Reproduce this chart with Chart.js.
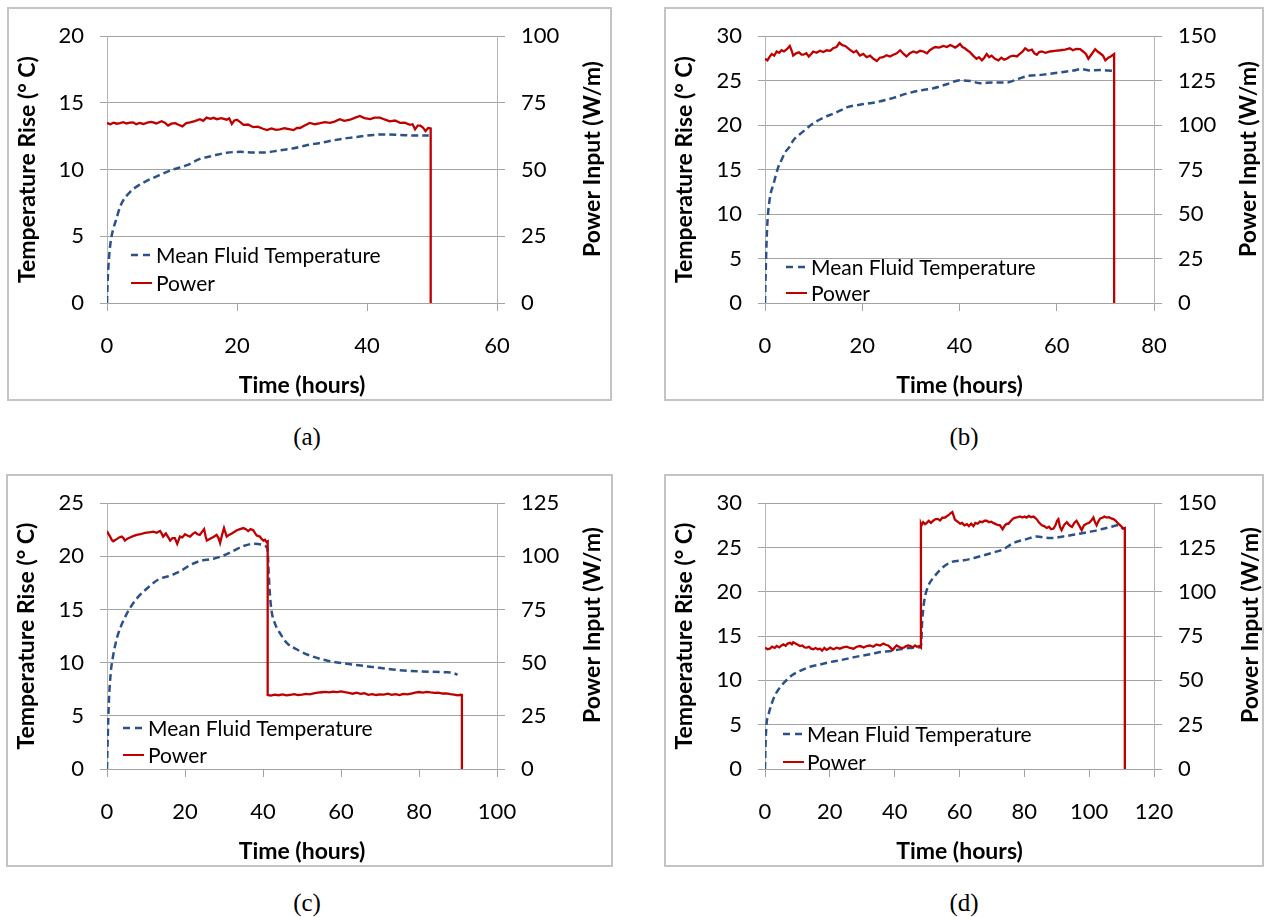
<!DOCTYPE html>
<html>
<head>
<meta charset="utf-8">
<script src="https://cdn.jsdelivr.net/npm/chart.js@4.4.1/dist/chart.umd.min.js"></script>
<style>
  html, body { margin: 0; padding: 0; background: #fff; }
  body { width: 1264px; height: 917px; position: relative; overflow: hidden; }
  canvas { position: absolute; }
  .box { position: absolute; border: 2px solid #c4c4c4; box-sizing: border-box; pointer-events: none; }
  .cap { position: absolute; width: 100px; text-align: center; font-family: "Liberation Serif", "Times New Roman", serif; font-size: 25px; color: #000; line-height: 28px; }
</style>
</head>
<body>
<canvas id="ca" width="605" height="394" style="left:7px;top:7px"></canvas>
<canvas id="cb" width="599" height="394" style="left:664px;top:7px"></canvas>
<canvas id="cc" width="607" height="393" style="left:6px;top:474px"></canvas>
<canvas id="cd" width="599" height="393" style="left:664px;top:474px"></canvas>
<div class="box" style="left:7px;top:7px;width:605px;height:394px"></div>
<div class="box" style="left:664px;top:7px;width:600px;height:394px"></div>
<div class="box" style="left:6px;top:474px;width:607px;height:393px"></div>
<div class="box" style="left:664px;top:474px;width:600px;height:393px"></div>
<div class="cap" style="left:257px;top:423px">(a)</div>
<div class="cap" style="left:914px;top:423px">(b)</div>
<div class="cap" style="left:257px;top:889px">(c)</div>
<div class="cap" style="left:914px;top:889px">(d)</div>
<script>
// ---------------- DATA ----------------
const seriesNames = ['Mean Fluid Temperature', 'Power'];
const xTitle = 'Time (hours)';
const yTitle = 'Temperature Rise (° C)';
const y1Title = 'Power Input (W/m)';

// (a)
const aTempHours = [0,0.1,0.2,0.4,0.7,1.0,1.5,2.0,2.5,3.5,4.8,6.1,7.9,10,12.3,14.3,16.4,18.4,20.5,22.5,24.3,26.6,28.7,30.7,32.8,34.8,36.9,38.9,41,43,45.1,47.1,49.5];
const aTempValues = [0,1.6,2.6,3.9,5.0,5.6,6.4,7.2,7.7,8.3,8.8,9.15,9.55,9.98,10.33,10.8,11.05,11.26,11.33,11.29,11.29,11.45,11.6,11.83,12.0,12.19,12.36,12.48,12.6,12.64,12.6,12.55,12.55];
const aPowerHours = [0,0.5,1,1.5,2,2.5,3,3.5,4,4.5,5,5.6,6.2,6.8,7.1,7.6,8.4,8.9,9.4,9.9,10.5,11,11.6,12.2,12.8,13.5,14.3,14.8,15.3,15.9,16.4,16.9,17.6,18.4,18.8,19.2,19.6,20,20.5,21,21.7,22.5,23.2,24,24.6,25.3,26,26.6,27.3,28,28.7,29.2,29.7,30.4,31.2,32,32.8,33.5,34.3,35,35.8,36.5,37.4,38.1,38.9,39.6,40.5,41.2,42,42.7,43.5,44.3,45.1,45.8,46.6,47,47.4,47.8,48.2,48.6,49,49.4,49.8,49.8];
const aPowerValues = [67.5,67.0,67.6,67.2,67.4,67.8,67.3,67.6,67.7,67.0,67.5,67.1,67.6,67.9,67.7,67.3,68.1,67.6,66.5,67.2,67.4,66.8,66.2,67.4,67.7,68.2,68.9,68.3,69.5,69.0,69.4,68.9,69.3,68.7,69.2,67.1,68.4,68.7,67.8,66.8,66.9,65.9,66.1,65.3,64.8,65.4,64.9,65.1,65.5,65.2,64.8,65.6,65.6,66.5,67.5,67.0,67.4,67.8,67.5,68.0,68.9,68.3,68.7,69.4,70.1,69.3,68.9,69.5,69.5,68.8,68.1,68.4,67.5,67.6,66.8,67.0,65.1,66.5,66.5,65.8,64.4,65.6,65.4,0];

// (b)
const bTempHours = [0,0.15,0.3,0.48,1.03,1.71,2.74,3.5,4.1,5.1,5.83,7.88,9.94,12.7,13.7,16.1,16.8,19.5,23,26.4,29.1,31.9,34.6,37.4,40.1,42.2,44.2,47,49.7,51.8,53.8,57.2,60.7,63.4,65.1,66.8,68.9,71.6];
const bTempValues = [0,3.5,6.5,8.9,11.9,13.3,15.3,16.2,16.9,17.6,18.3,19.3,20.2,21.0,21.2,21.8,22.0,22.3,22.6,23.07,23.54,23.9,24.14,24.6,25.04,24.97,24.72,24.8,24.8,25.14,25.5,25.68,25.93,26.14,26.3,26.14,26.2,26.1];
const bPowerHours = [0,0.5,1.0,1.4,1.9,2.4,2.9,3.4,3.9,4.5,5.1,5.5,5.8,6.4,7.0,7.5,7.9,8.5,9.0,9.5,9.9,10.6,11.3,12.0,12.7,13.4,14.0,14.7,15.3,15.9,16.5,17.3,18.2,18.8,19.5,20.2,20.9,21.6,22.3,23.0,23.6,24.3,25.0,25.7,26.4,27.1,27.8,28.5,29.1,29.8,30.5,31.2,31.9,32.6,33.3,33.9,34.5,35.0,35.8,36.7,37.4,38.1,38.6,39.1,39.6,40.1,40.6,41.1,41.6,42.2,42.8,43.5,44.0,44.6,45.1,45.6,46.1,46.6,47.3,48.0,48.6,49.2,49.7,50.4,51.1,51.8,52.4,53.0,53.5,54.2,54.9,55.4,55.9,56.4,56.9,57.7,58.6,59.6,60.7,61.7,62.7,63.3,64.0,64.8,65.4,66.0,66.5,67.2,67.9,68.4,68.9,69.5,70.0,70.6,71.1,71.6,71.8,71.8];
const bPowerValues = [137.3,136.4,138.6,140.0,139.1,141.4,140.7,142.1,141.4,142.7,144.5,141.8,139.1,140.4,140.9,139.6,139.6,140.4,138.6,140.0,141.4,140.7,141.8,141.1,142.1,141.8,143.2,143.9,146.3,145.0,144.5,142.7,140.9,141.8,139.1,140.0,138.2,139.1,137.3,136.1,137.9,138.2,139.3,138.6,139.6,140.4,142.1,140.0,138.6,140.4,141.4,140.7,141.8,141.4,140.4,142.1,143.2,143.9,143.6,144.5,143.9,145.0,144.3,143.6,144.5,145.7,143.9,143.2,142.1,140.9,139.1,137.3,138.2,136.4,137.9,140.0,138.2,139.1,137.3,136.4,137.9,136.8,137.3,138.6,139.1,138.6,140.0,141.4,143.2,141.8,142.5,140.4,139.6,141.1,141.4,140.7,141.4,141.8,142.1,142.5,143.2,142.1,142.9,142.7,141.4,140.0,137.3,140.0,142.7,141.4,140.4,139.1,136.4,137.9,138.6,139.6,140.0,0];

// (c)
const cTempHours = [0,0.2,0.5,1.0,1.45,2.2,2.9,4.2,5.9,8.0,10.6,13.2,16.2,18.7,21.3,23.8,27.3,29.8,32.4,35,37.5,40.1,40.9,41.2,41.5,41.8,42.2,43.1,44.4,46.1,48.6,52.1,56.3,61.5,68.1,74.3,80.5,86.7,88.5,89.9];
const cTempValues = [0,3,6.5,9.2,10.4,11.8,12.75,13.95,15.14,16.19,17.09,17.83,18.19,18.58,19.18,19.56,19.77,20.07,20.52,20.97,21.18,21.06,20.88,20.5,18.1,16.3,14.85,13.65,12.75,11.86,11.26,10.66,10.2,9.9,9.59,9.32,9.17,9.1,9.05,8.87];
const cPowerHours = [0,0.3,0.8,1.2,1.6,2.1,2.5,3.1,3.8,4.2,4.6,5.2,5.9,6.7,7.6,8.6,9.7,10.8,11.9,12.7,13.6,14.0,14.4,15.1,15.6,16.2,16.8,17.4,18.0,18.7,19.3,20.0,20.6,21.3,22.0,22.6,23.2,23.8,24.4,24.9,25.3,25.6,26.2,26.8,27.4,28.1,28.6,29.0,29.5,30.0,30.7,31.3,32.0,32.7,33.3,34.1,35.0,35.6,36.2,36.8,37.5,38.0,38.4,39.2,39.6,40.1,40.5,40.9,41.2,41.2,42,43,44,45,46,47,48,49,50,51,52,53,54,55,56,57,58,59,60,61,62,63,64,65,66,67,68,69,70,71,72,73,74,75,76,77,78,79,80,81,82,83,84,85,86,87,88,89,90,90.6,91,91];
const cPowerValues = [111.9,110.8,109.3,107.8,107.1,107.7,108.1,108.9,109.3,108.6,107.4,108.3,108.9,109.5,110.1,110.4,111.0,111.3,111.6,111.1,111.9,110.8,109.3,110.8,109.3,107.4,108.6,108.6,105.9,109.3,108.9,110.4,109.8,109.3,110.6,111.3,110.4,110.1,111.6,112.8,109.3,107.4,108.0,108.6,109.2,110.1,108.6,106.3,110.1,113.3,109.3,110.1,110.8,111.6,112.3,112.8,113.3,112.8,111.9,112.8,112.3,110.8,109.8,109.3,108.3,107.4,107.8,106.8,107.1,34.8,34.5,35.0,34.7,35.1,34.6,34.9,35.2,34.8,35.0,35.3,35.1,35.6,35.9,36.1,36.3,36.0,36.4,36.2,36.5,36.1,35.8,35.4,35.9,35.3,35.6,34.9,35.2,34.8,35.1,35.0,35.4,34.9,35.2,34.8,35.3,35.1,35.5,35.9,36.2,35.9,36.3,36.0,35.8,35.9,35.5,35.6,35.2,35.0,34.6,34.9,34.8,0];

// (d)
const dTempHours = [0,0.15,0.43,1.0,2.1,3.2,4.6,6.3,8.3,11,13.9,17,20.2,23.5,27.2,30,32.7,35.5,38.9,41.6,44.5,46.8,48.1,48.5,49.1,50.4,52,54.5,57.6,61.3,65.3,70.4,73.5,76.6,80.7,83.8,87.9,92,96.1,101.3,106.4,109,110.5];
const dTempValues = [0,2.5,4.9,6.0,7.4,8.4,9.2,9.9,10.57,11.1,11.54,11.8,12.08,12.3,12.6,12.8,12.97,13.2,13.33,13.5,13.65,13.7,13.85,16.7,18.9,20.7,21.6,22.65,23.37,23.55,23.9,24.44,24.8,25.5,25.95,26.24,26.06,26.24,26.5,26.85,27.3,27.5,27.1];
const dPowerHours = [0,0.8,1.5,2.2,3.0,3.6,4.4,5.1,5.7,6.4,7.0,7.7,8.3,8.7,9.4,10.1,10.8,11.5,12.2,12.9,13.6,14.2,14.9,15.6,16.3,17.0,17.6,18.3,19.0,19.6,20.1,21.1,22.1,23.1,24.1,25.2,26.2,27.3,28.3,29.3,30.4,31.4,32.4,33.4,34.4,35.5,36.5,37.2,38.0,38.7,39.4,40.0,40.6,41.3,42.0,42.8,43.5,44.2,44.9,45.6,46.3,46.9,47.6,48.1,48.1,48.3,48.8,49.4,49.9,50.5,51.2,51.9,52.6,53.4,54.0,54.7,55.5,56.2,56.8,57.2,57.8,58.2,58.6,59.4,60.2,60.8,61.5,62.3,62.9,63.6,64.3,64.9,65.6,66.3,67.0,67.7,68.4,69.1,69.8,70.4,71.2,71.8,72.5,73.3,74.0,74.6,75.1,75.8,76.6,77.3,78.0,78.7,79.4,80.1,80.7,81.4,82.1,82.8,83.3,83.8,84.6,85.4,86.1,86.9,87.6,88.3,89.0,89.6,90.1,90.5,91.0,91.5,92.3,93.1,93.9,94.7,95.4,96.1,96.9,97.7,98.4,99.2,100.0,100.7,101.3,101.8,102.3,102.8,103.4,104.1,104.7,105.4,106.1,106.8,107.5,108.2,109.0,109.6,110.1,110.5,111.0,111.0];
const dPowerValues = [68.5,67.6,67.9,69.0,68.3,69.4,68.6,69.7,70.3,69.5,70.8,71.2,70.4,71.5,70.8,70.1,69.4,69.7,68.6,68.5,69.0,67.9,67.6,68.3,67.6,67.9,66.8,68.3,67.2,67.9,68.5,67.6,68.5,67.9,68.6,69.0,68.3,67.9,69.0,69.4,68.6,69.4,69.7,69.0,70.3,69.7,70.8,70.1,69.7,68.5,67.2,68.6,69.7,69.0,68.3,68.5,69.4,69.7,69.4,68.6,69.7,69.0,69.4,68.5,138.4,137.5,139.3,138.2,138.9,140.0,138.9,140.1,141.0,141.0,140.3,141.8,141.9,142.8,143.5,144.3,145.0,142.8,140.7,139.6,138.4,138.9,137.5,138.2,137.1,138.4,137.1,138.9,138.4,139.6,139.3,140.1,140.1,139.3,139.6,138.9,138.2,137.8,137.5,135.3,137.5,138.4,138.4,140.0,141.4,141.8,142.1,142.5,141.9,142.5,141.9,142.8,142.1,142.5,141.8,141.0,138.9,137.5,137.1,136.0,136.7,135.3,135.7,137.5,140.1,141.0,136.6,134.8,137.8,139.3,137.5,136.6,138.9,140.1,137.5,134.8,137.5,138.4,138.9,140.3,141.9,139.3,137.5,139.6,141.4,141.8,142.5,141.9,142.1,141.4,141.0,140.0,138.4,137.5,136.6,135.7,136.0,0];

// ---------------- CHART BUILDING ----------------
const FONT = 'Lato, "Open Sans", "Liberation Sans", sans-serif';
const GRID = '#a3a3a3';
const AXISLINE = '#b5b5b5';
const RED = '#C00000';
const BLUE = '#2A5289';

function pts(xs, ys) { return xs.map((x, i) => ({ x: x, y: ys[i] })); }

const panelDecor = {
  id: 'panelDecor',
  afterDraw(chart) {
    const o = chart.options.plugins.panelDecor;
    const ctx = chart.ctx;
    ctx.save();
    ctx.font = 'bold 23px ' + FONT;
    ctx.fillStyle = '#000';
    ctx.textAlign = 'center';
    ctx.textBaseline = 'middle';
    ctx.translate(o.rtX, o.rtY);
    ctx.rotate(-Math.PI / 2);
    ctx.fillText(y1Title, 0, 0);
    ctx.restore();
    ctx.save();
    ctx.font = '21px ' + FONT;
    ctx.fillStyle = '#000';
    ctx.textAlign = 'left';
    ctx.textBaseline = 'middle';
    ctx.lineWidth = 2.5;
    ctx.strokeStyle = BLUE;
    ctx.setLineDash([7, 5]);
    ctx.beginPath();
    ctx.moveTo(o.lgX1, o.lgY1); ctx.lineTo(o.lgX2, o.lgY1); ctx.stroke();
    ctx.setLineDash([]);
    ctx.strokeStyle = RED;
    ctx.lineWidth = 2;
    ctx.beginPath();
    ctx.moveTo(o.lgX1, o.lgY2); ctx.lineTo(o.lgX2, o.lgY2); ctx.stroke();
    ctx.fillText(seriesNames[0], o.lgTX, o.lgY1 + 1);
    ctx.fillText(seriesNames[1], o.lgTX, o.lgY2 + 1);
    ctx.restore();
  }
};

function makePanel(id, xMax, yMax, y1Max, tT, tV, pT, pV, geo) {
  const cv = document.getElementById(id);
  const W = cv.width, H = cv.height;
  return new Chart(cv, {
    type: 'line',
    data: {
      datasets: [
        { label: seriesNames[0], data: pts(tT, tV), yAxisID: 'y', borderColor: BLUE, borderWidth: 2.5,
          borderDash: [7, 4], pointRadius: 0, cubicInterpolationMode: 'monotone', order: 1, fill: false },
        { label: seriesNames[1], data: pts(pT, pV), yAxisID: 'y1', borderColor: RED, borderWidth: 2.3,
          pointRadius: 0, tension: 0, order: 0, fill: false }
      ]
    },
    options: {
      responsive: false,
      animation: false,
      events: [],
      layout: { padding: { top: geo.top, left: 0, right: 0, bottom: 0 } },
      plugins: {
        legend: { display: false },
        tooltip: { enabled: false },
        panelDecor: geo
      },
      scales: {
        x: {
          type: 'linear', min: 0, max: xMax, position: 'bottom',
          ticks: { stepSize: 20, color: '#000', font: { family: FONT, size: 22 }, padding: 22, maxRotation: 0 },
          grid: { display: true, drawOnChartArea: false, drawTicks: true, tickLength: 8, color: GRID },
          border: { display: false },
          title: { display: true, text: xTitle, color: '#000', font: { family: FONT, size: 23, weight: 'bold' }, padding: { top: 0, bottom: 2 } },
          afterFit(s) { s.height = H - geo.bottom; }
        },
        y: {
          type: 'linear', position: 'left', min: 0, max: yMax,
          ticks: { stepSize: 5, color: '#000', font: { family: FONT, size: 22 }, padding: 16 },
          grid: { color: GRID, tickLength: 7, drawTicks: true },
          border: { display: true, color: AXISLINE },
          title: { display: true, text: yTitle, color: '#000', font: { family: FONT, size: 23, weight: 'bold' }, padding: { top: 7, bottom: 0 } },
          afterFit(s) { s.width = geo.left; }
        },
        y1: {
          type: 'linear', position: 'right', min: 0, max: y1Max,
          ticks: { stepSize: 25, color: '#000', font: { family: FONT, size: 22 }, padding: 16 },
          grid: { color: GRID, tickLength: 8, drawOnChartArea: false, drawTicks: true },
          border: { display: true, color: AXISLINE },
          afterFit(s) { s.width = W - geo.right; }
        }
      }
    },
    plugins: [panelDecor]
  });
}

makePanel('ca', 60, 20, 100, aTempHours, aTempValues, aPowerHours, aPowerValues,
  { left: 100, right: 490, top: 16, bottom: 296, rtX: 586, rtY: 152, lgX1: 124, lgX2: 145, lgTX: 149, lgY1: 248, lgY2: 276 });
makePanel('cb', 80, 30, 150, bTempHours, bTempValues, bPowerHours, bPowerValues,
  { left: 101, right: 490, top: 16, bottom: 296, rtX: 585, rtY: 152, lgX1: 122, lgX2: 143, lgTX: 147, lgY1: 260, lgY2: 286 });
makePanel('cc', 100, 25, 125, cTempHours, cTempValues, cPowerHours, cPowerValues,
  { left: 101, right: 491, top: 16, bottom: 295, rtX: 587, rtY: 151, lgX1: 117, lgX2: 138, lgTX: 142, lgY1: 254, lgY2: 281 });
makePanel('cd', 120, 30, 150, dTempHours, dTempValues, dPowerHours, dPowerValues,
  { left: 101, right: 490, top: 16, bottom: 295, rtX: 587, rtY: 151, lgX1: 119, lgX2: 140, lgTX: 143, lgY1: 260, lgY2: 288 });
</script>
</body>
</html>
